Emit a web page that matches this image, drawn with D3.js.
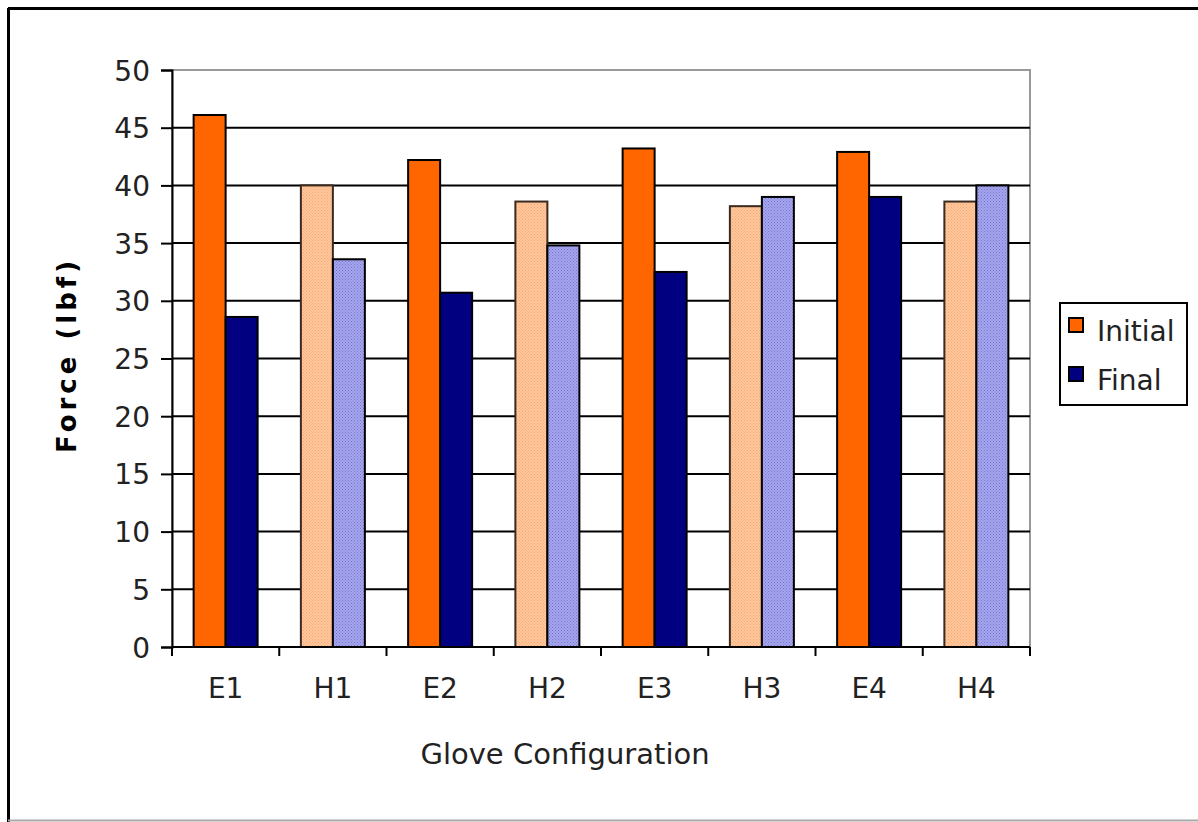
<!DOCTYPE html>
<html><head><meta charset="utf-8">
<script src="https://cdn.jsdelivr.net/npm/d3@7"></script>
<style>body{margin:0;background:#fff}svg{display:block;font-family:"DejaVu Sans",sans-serif}</style>
</head><body><svg id="c" width="1198" height="822"></svg>
<script>
const categories = ["E1","H1","E2","H2","E3","H3","E4","H4"];
const initialValues = [46.1, 40.0, 42.2, 38.6, 43.2, 38.2, 42.9, 38.6];
const finalValues = [28.6, 33.6, 30.7, 34.8, 32.5, 39.0, 39.0, 40.0];
const seriesNames = ["Initial","Final"];
const yTicks = [0,5,10,15,20,25,30,35,40,45,50];

const svg = d3.select("#c");
const defs = svg.append("defs");
function dotPattern(id, bg, dot){
  const p = defs.append("pattern").attr("id", id).attr("width", 3).attr("height", 3).attr("patternUnits","userSpaceOnUse");
  p.append("rect").attr("width",3).attr("height",3).attr("fill",bg);
  p.append("rect").attr("x",0).attr("y",0).attr("width",1).attr("height",1).attr("fill",dot);
  p.append("rect").attr("x",1.5).attr("y",1.5).attr("width",1).attr("height",1).attr("fill",dot);
}
dotPattern("pInit", "#FFC79A", "#F5A77A");
dotPattern("pFin", "#A6A6F0", "#7777C8");

// outer border
svg.append("line").attr("x1",8.5).attr("x2",8.5).attr("y1",8).attr("y2",822).attr("stroke","#000").attr("stroke-width",3);
svg.append("line").attr("x1",8).attr("x2",1198).attr("y1",8.5).attr("y2",8.5).attr("stroke","#000").attr("stroke-width",3);
svg.append("line").attr("x1",8).attr("x2",1198).attr("y1",820.5).attr("y2",820.5).attr("stroke","#aaa").attr("stroke-width",2);

const L = 172, R = 1030, T = 70, B = 647;
const x = d3.scaleBand().domain(categories).range([L, R]);
const y = d3.scaleLinear().domain([0, 50]).range([B, T]);

// plot frame (gray right/top)
svg.append("rect").attr("x",L).attr("y",T).attr("width",R-L).attr("height",B-T).attr("fill","#fff").attr("stroke","#999").attr("stroke-width",2);

// gridlines
svg.append("g").selectAll("line").data(yTicks.filter(d=>d>0 && d<50)).join("line")
  .attr("x1",L).attr("x2",R).attr("y1",d=>y(d)).attr("y2",d=>y(d)).attr("stroke","#000").attr("stroke-width",2);

const barW = 32;
const data = categories.map((c,i)=>({c, init: initialValues[i], fin: finalValues[i], hatched: c.startsWith("H")}));
const g = svg.append("g");
data.forEach(d=>{
  const cx = x(d.c) + x.bandwidth()/2;
  g.append("rect").attr("x", cx - barW).attr("y", y(d.init)).attr("width", barW).attr("height", B - y(d.init))
    .attr("fill", d.hatched ? "url(#pInit)" : "#FF6600").attr("stroke", d.hatched ? "#3a2a20" : "#000").attr("stroke-width",2);
  g.append("rect").attr("x", cx).attr("y", y(d.fin)).attr("width", barW).attr("height", B - y(d.fin))
    .attr("fill", d.hatched ? "url(#pFin)" : "#000080").attr("stroke", "#000").attr("stroke-width",2);
});

// y axis
const ya = svg.append("g").attr("transform",`translate(${L},0)`)
  .call(d3.axisLeft(y).tickValues(yTicks).tickSize(11).tickPadding(11));
ya.select(".domain").attr("stroke","#000").attr("stroke-width",2);
ya.selectAll(".tick line").attr("stroke","#000").attr("stroke-width",2);
ya.selectAll("text").attr("font-size",28).attr("fill","#222").attr("font-family","'DejaVu Sans',sans-serif").attr("dy","0.36em");

// x axis
const xa = svg.append("g").attr("transform",`translate(0,${B})`)
  .call(d3.axisBottom(x).tickSize(0).tickPadding(31));
xa.select(".domain").attr("stroke","#000").attr("stroke-width",2).attr("d",`M${L},0H${R}`);
xa.selectAll("text").attr("font-size",28).attr("fill","#222").attr("font-family","'DejaVu Sans',sans-serif");
xa.append("g").selectAll("line").data(categories.map(c=>x(c)).concat([R])).join("line")
  .attr("x1",d=>d).attr("x2",d=>d).attr("y1",0).attr("y2",9).attr("stroke","#000").attr("stroke-width",2);

// titles
svg.append("text").attr("x",565).attr("y",764).attr("text-anchor","middle")
  .attr("font-size",29).attr("fill","#222").text("Glove Configuration");
svg.append("text").attr("transform","translate(76,355) rotate(-90)").attr("text-anchor","middle")
  .attr("font-size",26).attr("font-weight","bold").attr("letter-spacing",4).attr("fill","#000").text("Force (lbf)");

// legend
const lg = svg.append("g");
lg.append("rect").attr("x",1060).attr("y",303).attr("width",127).attr("height",102).attr("fill","#fff").attr("stroke","#000").attr("stroke-width",2);
const lc = ["#FF6600","#000080"];
seriesNames.forEach((s,i)=>{
  const yy = 325 + i*49;
  lg.append("rect").attr("x",1069).attr("y",yy-7).attr("width",14).attr("height",14).attr("fill",lc[i]).attr("stroke","#000").attr("stroke-width",2);
  lg.append("text").attr("x",1097).attr("y",yy+16).attr("font-size",28).attr("fill","#222").text(s);
});
</script></body></html>
